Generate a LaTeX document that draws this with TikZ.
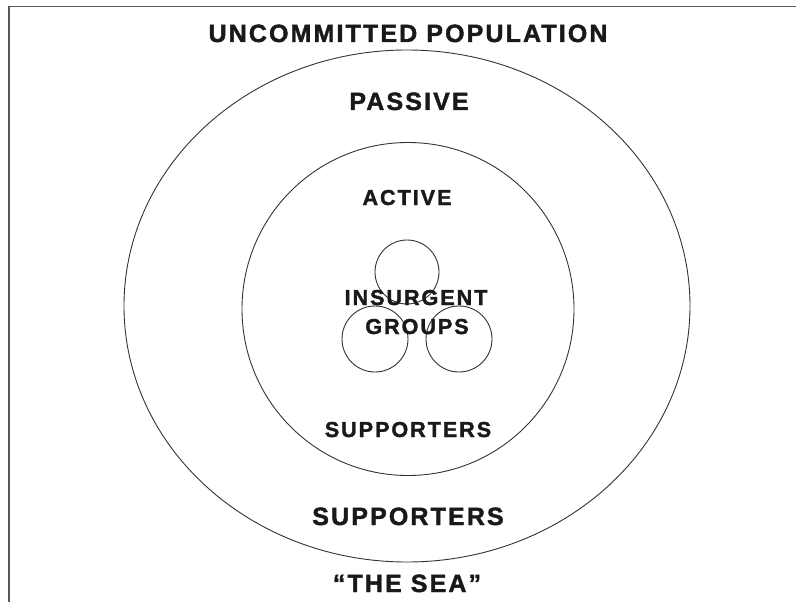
\documentclass[tikz,border=0pt]{standalone}
\usepackage{fontspec}
\setmainfont{Liberation Sans}
\usetikzlibrary{shapes.geometric}
\newfontfamily\bigfont[LetterSpace=8.5,FakeBold=1.6]{Liberation Sans}
\newfontfamily\smallfont[LetterSpace=9,FakeBold=1.6]{Liberation Sans}
\begin{document}
\begin{tikzpicture}[x=1pt,y=-1pt]
	\tikzset{ring/.style={draw=black!80, line width=0.9pt, inner sep=0pt},
	bigtext/.style={font=\bigfont\bfseries\fontsize{25}{25}\selectfont, text=black!90, inner sep=0pt, anchor=base},
	smalltext/.style={font=\smallfont\bfseries\fontsize{21.6}{21.6}\selectfont, text=black!90, inner sep=0pt, anchor=base}
	}
	\useasboundingbox (0,0) rectangle (796,602);
	% frame
	\draw[black!65, line width=1.5pt] (9,602) -- (9,6.5) -- (796,6.5);
	% rings
	\node (outer) at (407,306) [ring, ellipse, minimum width=566pt, minimum height=512pt] {};
	\node (inner) at (408,309) [ring, ellipse, minimum width=332pt, minimum height=333pt] {};
	\node (g1) at (407,272) [ring, circle, minimum size=64pt] {};
	\node (g2) at (375,339) [ring, circle, minimum size=66pt] {};
	\node (g3) at (459,339) [ring, circle, minimum size=66pt] {};
	% labels
	\node (uncom) at (408,42) [bigtext] {UNCOMMITTED POPULATION};
	\node (passive) at (409,110) [bigtext] {PASSIVE};
	\node (active) at (407,205) [smalltext] {ACTIVE};
	\node (insurg) at (416,305) [smalltext] {INSURGENT};
	\node (groups) at (417,334) [smalltext] {GROUPS};
	\node (supin) at (408,437) [smalltext] {SUPPORTERS};
	\node (supout) at (408,525) [bigtext] {SUPPORTERS};
	\node (sea) at (407,592) [bigtext] {“THE SEA”};
\end{tikzpicture}
\end{document}
